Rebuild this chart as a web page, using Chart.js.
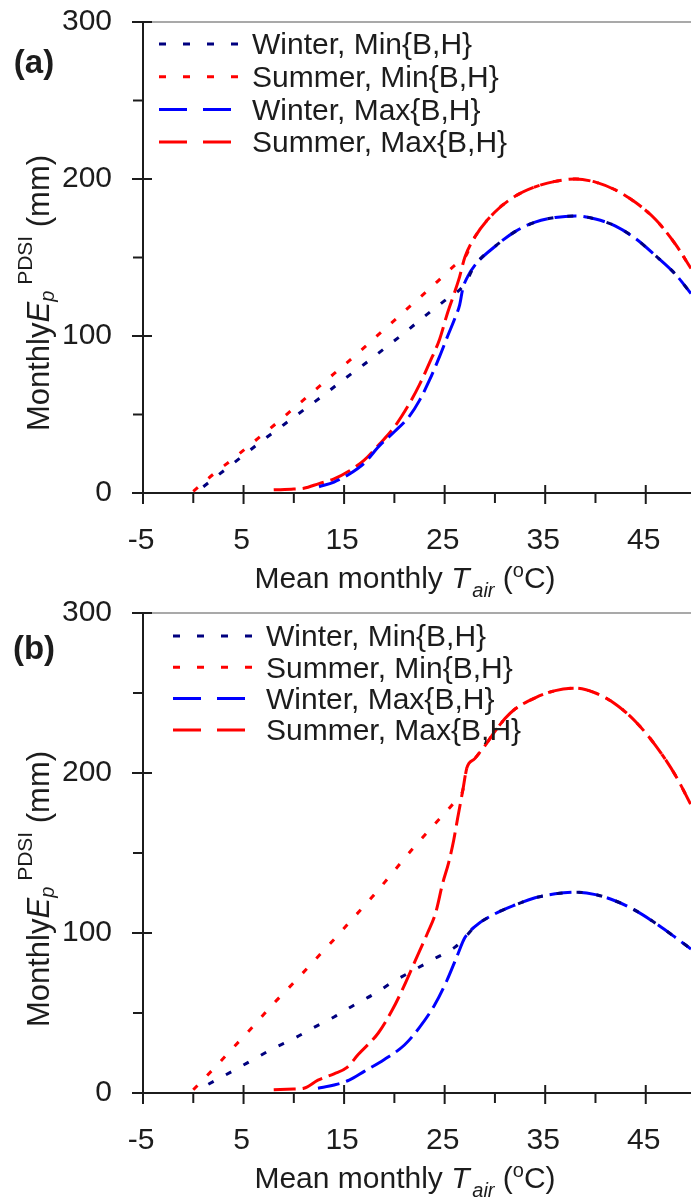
<!DOCTYPE html>
<html>
<head>
<meta charset="utf-8">
<script src="https://cdn.jsdelivr.net/npm/chart.js@4/dist/chart.umd.min.js"></script>
<style>
  html, body { margin: 0; padding: 0; background: #fff; }
  .panel { width: 691px; height: 600px; }
  canvas { display: block; }
</style>
</head>
<body>
<div class="panel"><canvas id="chartA" width="691" height="600"></canvas></div>
<div class="panel"><canvas id="chartB" width="691" height="600"></canvas></div>
<script>
// axis ticks
const xTicks = [-5, 5, 15, 25, 35, 45]
const xMinorTicks = [0, 10, 20, 30, 40]
const yTicks = [0, 100, 200, 300]
const yMinorTicks = [50, 150, 250]
const seriesLabels = ['Winter, Min{B,H}', 'Summer, Min{B,H}', 'Winter, Max{B,H}', 'Summer, Max{B,H}']

// panel (a): mean monthly Tair (degC) vs monthly Ep (mm)
const aWinterMinT = [1, 3, 5, 7, 9, 11, 13, 15, 17, 19, 21, 23, 25, 27, 28, 30, 32, 34, 36, 38, 40, 42, 44, 46, 48, 49.5]
const aWinterMinEp = [4, 14, 24, 34, 43.5, 53, 62.5, 72.5, 82, 92, 102, 112.5, 122.5, 133, 145, 157, 166.5, 172.5, 175.5, 176.5, 174.5, 170, 162, 151, 139, 127]
const aSummerMinT = [0, 2, 4, 6, 8, 10, 12, 14, 16, 18, 20, 22, 24, 26, 27, 28, 30, 32, 34, 36, 38, 40, 42, 44, 46, 48, 49.5]
const aSummerMinEp = [1, 12, 22, 32.5, 43, 54, 65, 76, 87, 98.5, 110, 121.5, 133, 145, 150, 163, 179, 189, 195, 198.5, 200, 198, 193, 185, 174, 158, 143]
const aWinterMaxT = [12.5, 14, 15.5, 17, 18.5, 20, 21.5, 22.5, 23.5, 24.5, 25.3, 26, 26.5, 26.8, 27.3, 28, 30, 32, 34, 36, 38, 40, 42, 44, 46, 48, 49.5]
const aWinterMaxEp = [4, 7, 12, 19, 30, 39, 49, 59, 72, 87, 100, 111, 120, 130, 138, 145, 157, 166.5, 172.5, 175.5, 176.5, 174.5, 170, 162, 151, 139, 127]
const aSummerMaxT = [8, 10, 11, 12.5, 14, 15.5, 17, 18.5, 20, 21.5, 22.5, 23.5, 24.5, 25.3, 26, 26.5, 27, 28, 30, 32, 34, 36, 38, 40, 42, 44, 46, 48, 49.5]
const aSummerMaxEp = [2, 2.5, 3, 6, 9, 14, 21, 31, 42, 57, 69, 83, 98, 115, 128, 138, 150, 163, 179, 189, 195, 198.5, 200, 198, 193, 185, 174, 158, 143]

// panel (b)
const bWinterMinT = [1.5, 4, 6, 8, 10, 12, 14, 16, 18, 20, 22, 24, 26, 27, 28, 30, 32, 34, 36, 38, 40, 42, 44, 46, 48, 49.5]
const bWinterMinEp = [5.5, 14, 21, 28, 34, 41, 47.5, 55, 62, 70, 77, 84, 91, 97, 104, 112, 117.5, 122, 124.5, 125.5, 124, 120, 114, 106, 97, 90]
const bSummerMinT = [0, 2, 4, 6, 8, 10, 12, 14, 16, 18, 20, 22, 24, 26, 26.8, 27.2, 28, 29, 30, 31, 32, 34, 36, 38, 40, 42, 44, 46, 48, 49.5]
const bSummerMinEp = [2, 15, 28.5, 42, 56, 69, 82.5, 96, 110, 124, 139, 154, 168, 182, 189, 203, 209, 217, 226, 234, 240, 247, 251.5, 253, 250, 243, 232, 217, 198, 180]
const bWinterMaxT = [12.4, 14, 15.5, 17, 19, 21, 22.5, 24, 25.2, 26.2, 27, 28, 30, 32, 34, 36, 38, 40, 42, 44, 46, 48, 49.5]
const bWinterMaxEp = [3, 5, 8, 13.5, 21, 30, 41, 55, 70, 85, 97, 104, 112, 117.5, 122, 124.5, 125.5, 124, 120, 114, 106, 97, 90]
const bSummerMaxT = [8, 10, 11, 12.4, 14, 15.3, 16.4, 18.4, 19.8, 20.9, 22.1, 23.3, 24.1, 24.8, 25.4, 25.9, 26.3, 26.8, 27.2, 28, 29, 30, 31, 32, 34, 36, 38, 40, 42, 44, 46, 48, 49.5]
const bSummerMaxEp = [2, 2.5, 3, 8, 12, 16, 24, 37.5, 52, 66, 83, 100, 112.5, 131, 144, 158, 172, 189, 203, 209, 217, 226, 234, 240, 247, 251.5, 253, 250, 243, 232, 217, 198, 180]

const colors = ['#00007f', '#ff0000', '#0000ff', '#ff0000']
const plotDash = [[6, 14], [6, 14], [22, 7], [22, 7]]
const FONT = '"Liberation Sans", Arial, sans-serif'

const toPoints = (xs, ys) => xs.map((v, i) => ({x: v, y: ys[i]}))

// draws a run of text pieces [text, font, dy] one after another
function richText(ctx, parts, x, y, center) {
  let total = 0
  parts.forEach(p => { ctx.font = p[1]; total += ctx.measureText(p[0]).width })
  let cx = center ? x - total / 2 : x
  ctx.textAlign = 'left'
  ctx.textBaseline = 'alphabetic'
  parts.forEach(p => {
    ctx.font = p[1]
    ctx.fillText(p[0], cx, y + p[2])
    cx += ctx.measureText(p[0]).width
  })
}

const axisFrame = {
  id: 'axisFrame',
  beforeDatasetsDraw(chart) {
    const {ctx, chartArea: area, scales: {x, y}} = chart
    const line = (x1, y1, x2, y2) => { ctx.beginPath(); ctx.moveTo(x1, y1); ctx.lineTo(x2, y2); ctx.stroke() }
    ctx.save()
    ctx.lineWidth = 2
    ctx.strokeStyle = '#a9a9a9'
    line(area.left, area.top, area.right, area.top)
    ctx.strokeStyle = '#1c1c1c'
    line(area.left, area.top, area.left, area.bottom)
    line(area.left - 11, area.bottom, area.right, area.bottom)
    xTicks.forEach(v => { const px = x.getPixelForValue(v); line(px, area.bottom - 8, px, area.bottom + 11) })
    xMinorTicks.forEach(v => { const px = x.getPixelForValue(v); line(px, area.bottom, px, area.bottom + 10) })
    yTicks.forEach(v => { const py = y.getPixelForValue(v); line(area.left - 11, py, area.left + 9, py) })
    yMinorTicks.forEach(v => { const py = y.getPixelForValue(v); line(area.left - 10, py, area.left, py) })

    ctx.fillStyle = '#1c1c1c'
    ctx.font = '30px ' + FONT
    ctx.textAlign = 'right'
    ctx.textBaseline = 'middle'
    yTicks.forEach(v => ctx.fillText(String(v), 112, y.getPixelForValue(v)))
    ctx.textAlign = 'center'
    ctx.textBaseline = 'alphabetic'
    xTicks.forEach(v => ctx.fillText(String(v), x.getPixelForValue(v) - 2, area.bottom + 56))
    ctx.restore()
  },
  afterDatasetsDraw(chart, args, opts) {
    const {ctx, chartArea: area} = chart
    ctx.save()
    ctx.fillStyle = '#1c1c1c'

    // x title: Mean monthly T_air (oC)
    richText(ctx, [
      ['Mean monthly ', '30px ' + FONT, 0],
      ['T', 'italic 30px ' + FONT, 0],
      [' ', '10px ' + FONT, 0],
      ['air', 'italic 20px ' + FONT, 9],
      [' (', '30px ' + FONT, 0],
      ['o', '20px ' + FONT, -11],
      ['C)', '30px ' + FONT, 0]
    ], 405, area.bottom + 95, true)

    // y title: Monthly E_p^PDSI (mm)
    ctx.save()
    ctx.translate(49, opts.yTitleY)
    ctx.rotate(-Math.PI / 2)
    richText(ctx, [
      ['Monthly', '31px ' + FONT, 0],
      ['E', 'italic 31px ' + FONT, 0],
      ['p', 'italic 20px ' + FONT, 5],
      [' PDSI', '21px ' + FONT, -17],
      [' (mm)', '31px ' + FONT, 0]
    ], 0, 0, true)
    ctx.restore()

    // panel tag
    ctx.font = 'bold 33px ' + FONT
    ctx.textAlign = 'center'
    ctx.textBaseline = 'middle'
    ctx.fillText(opts.tag, 34, opts.tagY)

    // legend
    const legendDash = [[7, 17], [7, 17], [28, 16], [28, 16]]
    seriesLabels.forEach((label, i) => {
      const ry = opts.legendTop + i * opts.legendStep
      ctx.strokeStyle = colors[i]
      ctx.lineWidth = 3
      ctx.setLineDash(legendDash[i])
      ctx.beginPath()
      ctx.moveTo(opts.legendX, ry)
      ctx.lineTo(opts.legendX + (i < 2 ? 81 : 73), ry)
      ctx.stroke()
      ctx.setLineDash([])
      ctx.fillStyle = '#1c1c1c'
      ctx.font = '30px ' + FONT
      ctx.textAlign = 'left'
      ctx.textBaseline = 'middle'
      ctx.fillText(label, opts.legendX + 93, ry + 2)
    })
    ctx.restore()
  }
}

function makeChart(id, series, padTop, frameOpts) {
  return new Chart(document.getElementById(id), {
    type: 'line',
    data: {
      datasets: series.map((s, i) => ({
        label: seriesLabels[i],
        data: toPoints(s[0], s[1]),
        borderColor: colors[i],
        borderWidth: 3,
        borderDash: plotDash[i],
        pointRadius: 0,
        fill: false,
        clip: false,
        cubicInterpolationMode: 'monotone'
      }))
    },
    options: {
      responsive: false,
      animation: false,
      layout: {padding: {left: 143, right: 0, top: padTop, bottom: 107}},
      scales: {
        x: {type: 'linear', display: false, min: -5, max: 49.5},
        y: {display: false, min: 0, max: 300}
      },
      plugins: {
        legend: {display: false},
        tooltip: {enabled: false},
        axisFrame: frameOpts
      }
    },
    plugins: [axisFrame]
  })
}

makeChart('chartA', [
  [aWinterMinT, aWinterMinEp],
  [aSummerMinT, aSummerMinEp],
  [aWinterMaxT, aWinterMaxEp],
  [aSummerMaxT, aSummerMaxEp]
], 22, {tag: '(a)', tagY: 64, yTitleY: 293, legendX: 159, legendTop: 44, legendStep: 32.7})

makeChart('chartB', [
  [bWinterMinT, bWinterMinEp],
  [bSummerMinT, bSummerMinEp],
  [bWinterMaxT, bWinterMaxEp],
  [bSummerMaxT, bSummerMaxEp]
], 13, {tag: '(b)', tagY: 50, yTitleY: 289, legendX: 173, legendTop: 36, legendStep: 31.3})
</script>
</body>
</html>
